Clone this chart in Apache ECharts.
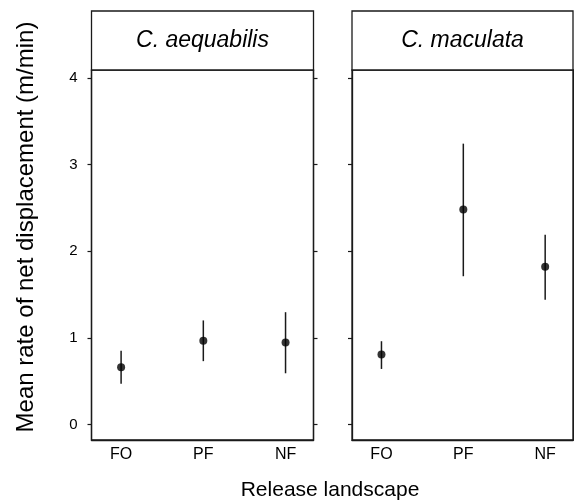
<!DOCTYPE html>
<html>
<head>
<meta charset="utf-8">
<script src="https://cdn.jsdelivr.net/npm/echarts@6/dist/echarts.min.js"></script>
<style>
html,body{margin:0;padding:0;background:#fff;}
#chart{width:574px;height:504px;}
</style>
</head>
<body>
<div id="chart"></div>
<script>
var categories = ['FO', 'PF', 'NF'];
var panelTitles = ['C. aequabilis', 'C. maculata'];
var yTicks = [0, 1, 2, 3, 4];

var aequabilisMean  = [0.66, 0.965, 0.946];
var aequabilisLower = [0.47, 0.73, 0.59];
var aequabilisUpper = [0.85, 1.20, 1.295];

var maculataMean  = [0.807, 2.48, 1.82];
var maculataLower = [0.64, 1.71, 1.44];
var maculataUpper = [0.96, 3.24, 2.19];

var yTitle = 'Mean rate of net displacement (m/min)';
var xTitle = 'Release landscape';

var FONT = "'Liberation Sans', Arial, Helvetica, sans-serif";
var INK = '#1a1a1a';

var chart = echarts.init(document.getElementById('chart'), null, {renderer: 'canvas'});

var grids = [
  {left: 91.5, top: 70, width: 222, height: 370},
  {left: 352, top: 70, width: 221, height: 370}
];

function xAxisFor(i) {
  return {
    type: 'value', gridIndex: i, min: 0.64, max: 3.34,
    axisLine: {show: true, onZero: false, lineStyle: {color: INK, width: 1.3}},
    axisTick: {show: false},
    splitLine: {show: false},
    axisLabel: {
      customValues: [1, 2, 3],
      formatter: function (v) { return categories[Math.round(v) - 1] || ''; },
      fontFamily: FONT, fontSize: 16, color: '#000', margin: 7
    }
  };
}

function yAxisFor(i, pos, showLabel) {
  return {
    type: 'value', gridIndex: i, position: pos, min: -0.18, max: 4.09,
    axisLine: {show: true, onZero: false, lineStyle: {color: INK, width: 1.3}},
    axisTick: {show: true, inside: false, length: 4, customValues: yTicks, lineStyle: {color: INK, width: 1.2}},
    splitLine: {show: false},
    axisLabel: {
      show: showLabel, customValues: yTicks, fontFamily: FONT, fontSize: 15, color: '#000', margin: 14
    }
  };
}

function pairs(means) {
  return means.map(function (m, k) { return [k + 1, m]; });
}
function errData(lower, upper) {
  return lower.map(function (lo, k) { return [k + 1, lo, upper[k]]; });
}

function errSeries(i, lower, upper) {
  return {
    type: 'custom', xAxisIndex: i, yAxisIndex: i * 2,
    data: errData(lower, upper),
    renderItem: function (params, api) {
      var p1 = api.coord([api.value(0), api.value(1)]);
      var p2 = api.coord([api.value(0), api.value(2)]);
      return {
        type: 'line',
        shape: {x1: p1[0], y1: p1[1], x2: p2[0], y2: p2[1]},
        style: {stroke: INK, lineWidth: 1.5}
      };
    },
    silent: true, z: 3
  };
}

function pointSeries(i, means) {
  return {
    type: 'scatter', xAxisIndex: i, yAxisIndex: i * 2,
    data: pairs(means), symbol: 'circle', symbolSize: 8,
    itemStyle: {color: '#000'}, silent: true, z: 4
  };
}

var graphics = [];
grids.forEach(function (g, i) {
  graphics.push({
    type: 'rect', shape: {x: g.left, y: 11, width: g.width, height: g.top - 11},
    style: {fill: '#fff', stroke: INK, lineWidth: 1.3}, z: 10
  });
  graphics.push({
    type: 'text', x: g.left + g.width / 2, y: 41,
    style: {text: panelTitles[i], font: 'italic 23px ' + FONT, fill: '#000', align: 'center', verticalAlign: 'middle'},
    z: 11
  });
});
graphics.push({
  type: 'text', x: 330, y: 490,
  style: {text: xTitle, font: '21px ' + FONT, fill: '#000', align: 'center', verticalAlign: 'middle'}
});
graphics.push({
  type: 'text', x: 26, y: 227, rotation: Math.PI / 2,
  style: {text: yTitle, font: '24px ' + FONT, fill: '#000', align: 'center', verticalAlign: 'middle'}
});

var option = {
  animation: false,
  backgroundColor: '#fff',
  grid: grids.map(function (g) {
    return {left: g.left, top: g.top, width: g.width, height: g.height, show: true,
      borderColor: INK, borderWidth: 1.3, backgroundColor: 'transparent', containLabel: false};
  }),
  xAxis: [xAxisFor(0), xAxisFor(1)],
  yAxis: [yAxisFor(0, 'left', true), yAxisFor(0, 'right', false), yAxisFor(1, 'left', false), yAxisFor(1, 'right', false)],
  series: [
    errSeries(0, aequabilisLower, aequabilisUpper),
    pointSeries(0, aequabilisMean),
    errSeries(1, maculataLower, maculataUpper),
    pointSeries(1, maculataMean)
  ],
  graphic: graphics
};
chart.setOption(option);
</script>
</body>
</html>
